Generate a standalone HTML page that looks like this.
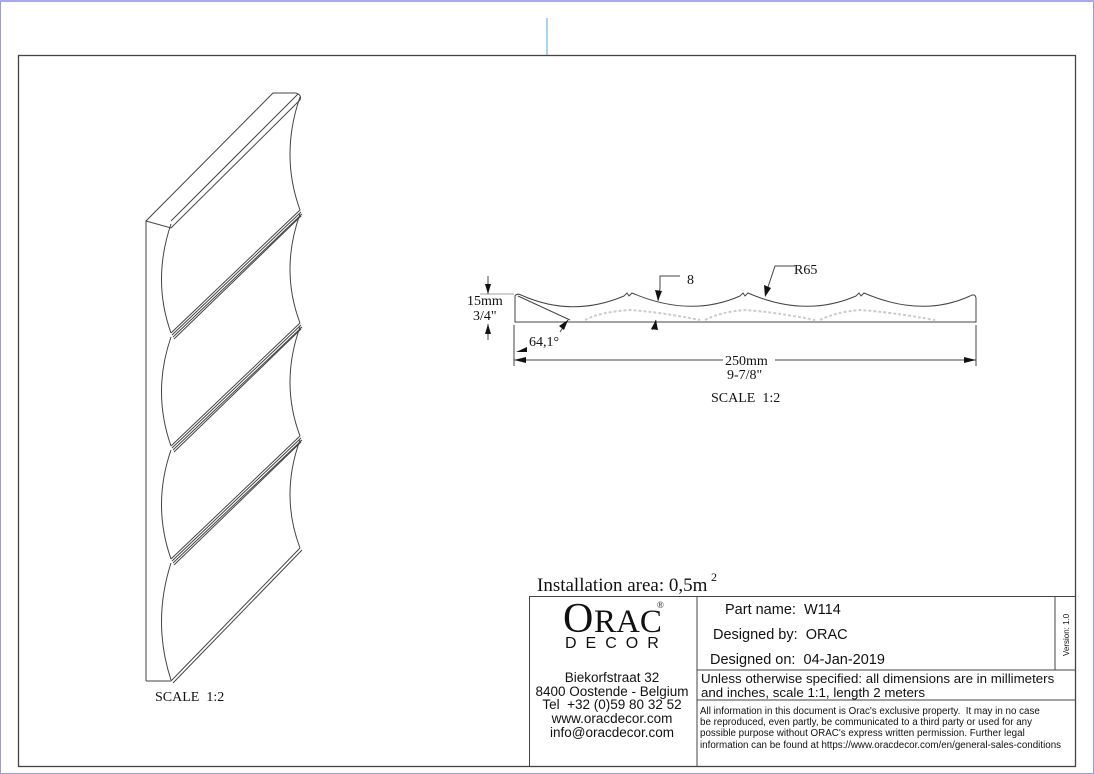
<!DOCTYPE html>
<html><head><meta charset="utf-8"><style>
html,body{margin:0;padding:0;background:#fff;}
svg{display:block;}
text{font-family:"Liberation Serif",serif;fill:#111;white-space:pre;}
.s{font-family:"Liberation Sans","DejaVu Sans",sans-serif;}
</style></head><body>
<svg width="1094" height="774" viewBox="0 0 1094 774" xmlns="http://www.w3.org/2000/svg" xml:space="preserve">
<rect x="0.5" y="0.5" width="1093" height="773" fill="#fff" stroke="#9a9ae8" stroke-width="1"/>
<line x1="0" y1="1" x2="1094" y2="1" stroke="#a8a8f0" stroke-width="2"/>
<line x1="547" y1="18" x2="547" y2="55" stroke="#5aa8d8" stroke-width="1"/>
<rect x="18.5" y="55.5" width="1057" height="711" fill="none" stroke="#444" stroke-width="1.3"/>

<g fill="none" stroke="#444" stroke-width="1">
<path d="M146,681 L146,221 L273,93 L296,93 Q302,95 300,100 L171,228 L146,221"/>
<line x1="171" y1="221" x2="298" y2="94"/>
<line x1="146" y1="681" x2="171" y2="681"/>
<line x1="171" y1="681" x2="300" y2="548"/>
<line x1="173" y1="683" x2="302" y2="550"/>
<path d="M300,97 Q280,155 300,210"/>
<path d="M300,214 Q280,270 300,323"/>
<path d="M300,327 Q280,383 300,436"/>
<path d="M300,440 Q280,495 300,548"/>
<path d="M171,224 Q152,280 171,333"/>
<path d="M171,337 Q152,392 171,446"/>
<path d="M171,450 Q152,505 171,559"/>
<path d="M171,563 Q152,622 171,680"/>
<line x1="171" y1="333" x2="300" y2="210"/><line x1="172" y1="335" x2="301" y2="212"/><line x1="173" y1="337" x2="302" y2="214"/><line x1="174" y1="339" x2="301" y2="216"/>
<line x1="171" y1="446" x2="300" y2="323"/><line x1="172" y1="448" x2="301" y2="325"/><line x1="173" y1="450" x2="302" y2="327"/><line x1="174" y1="452" x2="301" y2="329"/>
<line x1="171" y1="559" x2="300" y2="436"/><line x1="172" y1="561" x2="301" y2="438"/><line x1="173" y1="563" x2="302" y2="440"/><line x1="174" y1="565" x2="301" y2="442"/>
</g>
<text x="155" y="701" font-size="14">SCALE  1:2</text>

<g fill="none" stroke="#444" stroke-width="1">
<path d="M515,322 L515,296 Q517,293 521,295 Q572,318 624,296 L627,293 L629,296 L632,293 Q690,318 740,296 L743,293 L745,296 L748,293 Q805,318 856,296 L859,293 L861,296 L864,293 Q922,318 970,296 Q975,293 976,298 L976,322 Z"/>
<line x1="518" y1="296" x2="570" y2="320"/>
<path d="M585,320 Q600,312 630,310 Q660,312 700,320 M705,320 Q720,312 745,310 Q775,312 815,320 M820,320 Q835,312 860,310 Q890,312 935,320" stroke="#ccc" stroke-dasharray="3,2" stroke-width="2"/>
<line x1="488" y1="276" x2="488" y2="294"/><line x1="488" y1="324" x2="488" y2="340"/>
<line x1="480" y1="294" x2="514" y2="294" stroke-width="0.6"/>
<line x1="514" y1="325" x2="514" y2="366"/><line x1="976" y1="325" x2="976" y2="366"/>
<line x1="514" y1="360" x2="723" y2="360"/><line x1="775" y1="360" x2="976" y2="360"/>
<polyline points="660,288 660,276 680,276"/><line x1="660" y1="288" x2="658" y2="301"/>
<polyline points="767,290 775,266 795,266"/>
<line x1="652" y1="330" x2="656" y2="320"/>
<line x1="568" y1="320" x2="560" y2="332"/>
</g>
<g fill="#111">
<polygon points="488,294 485,284 491,284"/><polygon points="488,324 485,334 491,334"/>
<polygon points="514,360 526,357 526,363"/><polygon points="976,360 964,357 964,363"/>
<polygon points="658,301 655,290 662,291"/><polygon points="765,297 764,285 771,288"/>
<polygon points="656,320 651,329 658,330"/><polygon points="568,320 559,326 564,330"/>
<polygon points="516,352 527,347 527,352"/>
</g>
<text x="687" y="284" font-size="14">8</text>
<text x="794" y="274" font-size="14">R65</text>
<text x="467" y="305" font-size="14">15mm</text>
<text x="473" y="320" font-size="14">3/4"</text>
<text x="529" y="346" font-size="14">64,1°</text>
<text x="725" y="365" font-size="14">250mm</text>
<text x="727" y="379" font-size="14">9-7/8"</text>
<text x="711" y="402" font-size="14">SCALE  1:2</text>

<text x="537" y="591" font-size="19">Installation area: 0,5m</text>
<text x="711" y="581" font-size="12">2</text>
<g fill="none" stroke="#444" stroke-width="1">
<rect x="529.5" y="596.5" width="546" height="170"/>
<line x1="697" y1="597" x2="697" y2="766"/>
<line x1="697" y1="670" x2="1076" y2="670"/>
<line x1="697" y1="700" x2="1076" y2="700"/>
<line x1="1055" y1="597" x2="1055" y2="670"/>
</g>
<text x="563" y="632" font-size="42">O</text>
<text x="594" y="632" font-size="33">RAC</text>
<text x="657" y="608" font-size="9">®</text>
<text class="s" x="565" y="648" font-size="16" letter-spacing="9">DECOR</text>
<g font-size="13.5" text-anchor="middle">
<text class="s" x="612" y="682">Biekorfstraat 32</text>
<text class="s" x="612" y="696">8400 Oostende - Belgium</text>
<text class="s" x="612" y="709">Tel  +32 (0)59 80 32 52</text>
<text class="s" x="612" y="723">www.oracdecor.com</text>
<text class="s" x="612" y="737">info@oracdecor.com</text>
</g>
<g font-size="14.5">
<text class="s" x="725" y="614">Part name:  W114</text>
<text class="s" x="713" y="639">Designed by:  ORAC</text>
<text class="s" x="710" y="664">Designed on:  04-Jan-2019</text>
<text class="s" x="701" y="683" font-size="13.3">Unless otherwise specified: all dimensions are in millimeters</text>
<text class="s" x="701" y="697" font-size="13.3">and inches, scale 1:1, length 2 meters</text>
</g>
<g font-size="9.8">
<text class="s" x="700" y="714">All information in this document is Orac's exclusive property.  It may in no case</text>
<text class="s" x="700" y="725">be reproduced, even partly, be communicated to a third party or used for any</text>
<text class="s" x="700" y="736">possible purpose without ORAC's express written permission. Further legal</text>
<text class="s" x="700" y="748">information can be found at https://www.oracdecor.com/en/general-sales-conditions</text>
</g>
<text class="s" x="0" y="0" font-size="8" transform="translate(1069,656) rotate(-90)">Version: 1.0</text>
</svg>
</body></html>
